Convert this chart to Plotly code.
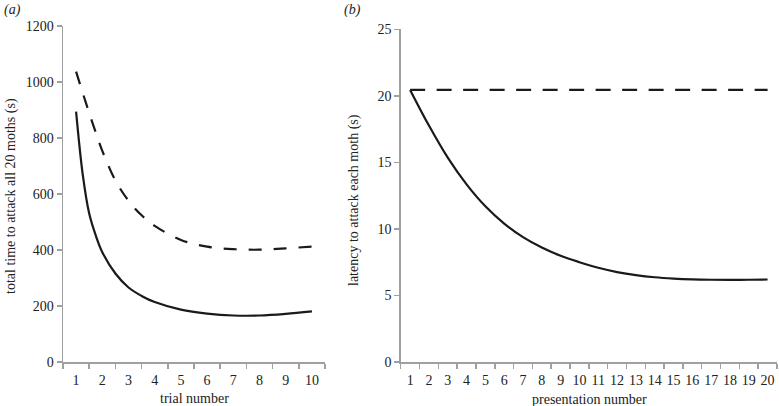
import plotly.graph_objects as go

# ---- data ----
trial_x = [1, 1.25, 1.5, 1.75, 2, 2.5, 3, 3.5, 4, 5, 6, 7, 8, 9, 10]
total_time_solid = [894, 672, 530, 452, 392, 316, 266, 236, 214, 187, 173, 166, 166, 172, 181]
total_time_dashed = [1037, 962, 889, 820, 754, 648, 576, 524, 486, 436, 412, 403, 401, 406, 412]
trial_labels = list(range(1, 11))

presentation_x = list(range(1, 21))
latency_solid = [20.45, 17.77, 15.36, 13.35, 11.70, 10.40, 9.38, 8.60, 7.98, 7.50,
                 7.08, 6.76, 6.53, 6.37, 6.27, 6.21, 6.18, 6.17, 6.18, 6.20]
latency_dashed = [20.45] * 20

yticks_a = [0, 200, 400, 600, 800, 1000, 1200]
yticks_b = [0, 5, 10, 15, 20, 25]

FONT = "Liberation Serif, Times New Roman, serif"
AXC = "#a0a0a0"
TXT = "#222222"
LINEC = "#1a1a1a"

fig = go.Figure()
fig.add_trace(go.Scatter(x=trial_x, y=total_time_dashed, mode="lines", line_shape="spline",
                         line=dict(color=LINEC, width=2.2, dash="13px,12px"),
                         xaxis="x", yaxis="y", showlegend=False, hoverinfo="skip"))
fig.add_trace(go.Scatter(x=trial_x, y=total_time_solid, mode="lines", line_shape="spline",
                         line=dict(color=LINEC, width=2.2),
                         xaxis="x", yaxis="y", showlegend=False, hoverinfo="skip"))
fig.add_trace(go.Scatter(x=presentation_x, y=latency_dashed, mode="lines",
                         line=dict(color=LINEC, width=2.2, dash="15px,11.5px"),
                         xaxis="x2", yaxis="y2", showlegend=False, hoverinfo="skip"))
fig.add_trace(go.Scatter(x=presentation_x, y=latency_solid, mode="lines", line_shape="spline",
                         line=dict(color=LINEC, width=2.2),
                         xaxis="x2", yaxis="y2", showlegend=False, hoverinfo="skip"))

common = dict(showline=True, linecolor=AXC, linewidth=1.5, showgrid=False, zeroline=False,
              automargin=False, tickfont=dict(family=FONT, size=14, color=TXT))
ycommon = dict(ticks="outside", tickcolor=AXC, ticklen=5, tickwidth=1.5, **common)


def xaxis_spec(n, domain, anchor):
    labels = list(range(1, n + 1))
    bounds = [k + 0.5 for k in range(0, n + 1)]
    return dict(domain=domain, anchor=anchor, range=[0.5, n + 0.5], tickmode="array",
                tickvals=labels, ticktext=[str(v) for v in labels], tickangle=0,
                ticks="outside", ticklen=5, tickcolor="rgba(0,0,0,0)", ticklabelstandoff=0,
                minor=dict(tickvals=bounds, ticks="outside", ticklen=5, tickwidth=1.5,
                           tickcolor=AXC, showgrid=False),
                **common)


fig.update_layout(
    width=779, height=406,
    margin=dict(l=63, r=2, t=26, b=44),
    paper_bgcolor="white", plot_bgcolor="white",
    font=dict(family=FONT, size=14, color=TXT),
    xaxis=xaxis_spec(len(trial_labels), [0, 0.367], "y"),
    yaxis=dict(domain=[0, 1], range=[0, 1200], tickvals=yticks_a, anchor="x", **ycommon),
    xaxis2=xaxis_spec(len(presentation_x), [0.473, 1], "y2"),
    yaxis2=dict(domain=[0, 0.990], range=[0, 25], tickvals=yticks_b, anchor="x2", **ycommon),
)

# pixel -> paper coordinates for text placement
W, H, L, R, T, B = 779, 406, 63, 2, 26, 44
pw, ph = W - L - R, H - T - B


def px(x):
    return (x - L) / pw


def py(y):
    return (H - B - y) / ph


ann = [
    dict(text="<i>(a)</i>", x=px(2), y=py(10), xanchor="left", yanchor="middle"),
    dict(text="<i>(b)</i>", x=px(342), y=py(10), xanchor="left", yanchor="middle"),
    dict(text="total time to attack all 20 moths (s)", x=px(11), y=py(196), textangle=-90,
         xanchor="center", yanchor="middle"),
    dict(text="latency to attack each moth (s)", x=px(354), y=py(200), textangle=-90,
         xanchor="center", yanchor="middle"),
    dict(text="trial number", x=px(194), y=py(398), xanchor="center", yanchor="middle"),
    dict(text="presentation number", x=px(589), y=py(399), xanchor="center", yanchor="middle"),
]
for a in ann:
    fig.add_annotation(xref="paper", yref="paper", showarrow=False,
                       font=dict(family=FONT, size=14, color=TXT), **a)

fig.write_html("out.html", config={"displayModeBar": False, "staticPlot": True},
               post_script="document.body.style.margin='0';document.body.style.overflow='hidden';")
